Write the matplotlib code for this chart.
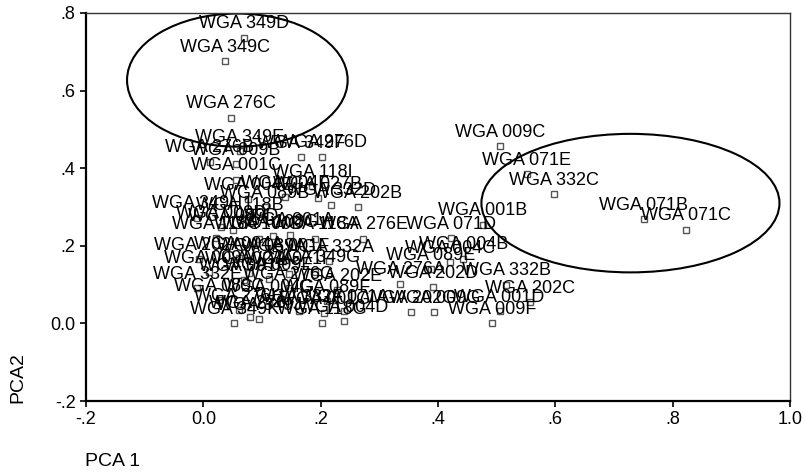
import matplotlib.pyplot as plt
from matplotlib.patches import Ellipse

plt.rcParams['font.family'] = ['Liberation Sans', 'DejaVu Sans']

labels = ['WGA 349D', 'WGA 349C', 'WGA 276C',
          'WGA 349E', 'WGA 276D', 'WGA 349F', 'WGA 276B', 'WGA 009B', 'WGA 001C',
          'WGA 118I', 'WGA 004F', 'WGA 027B', 'WGA 089B', 'WGA 332D', 'WGA 202B', 'WGA 004E',
          'WGA 349H', 'WGA 118B', 'WGA 009D', 'WGA 089D', 'WGA 001A', 'WGA 118A', 'WGA 276E',
          'WGA 118C', 'WGA 108G', 'WGA 100D',
          'WGA 202A', 'WGA 001F', 'WGA 332A', 'WGA 004A', 'WGA 089A',
          'WGA 009A', 'WGA 027A', 'WGA 349G', 'WGA 071F',
          'WGA 009E', 'WGA 001E',
          'WGA 332E', 'WGA 276G', 'WGA 202E',
          'WGA 089C', 'WGA 004G', 'WGA 089F',
          'WGA 276H', 'WGA 332F', 'WGA 071A', 'WGA 202G', 'WGA 009G',
          'WGA 276I', 'WGA 349J', 'WGA 004D', 'WGA 001G',
          'WGA 349K', 'WGA 118G',
          'WGA 009C', 'WGA 071E', 'WGA 332C', 'WGA 071B', 'WGA 071C', 'WGA 001B',
          'WGA 071D', 'WGA 004B', 'WGA 004C', 'WGA 089E', 'WGA 276A', 'WGA 202D',
          'WGA 332B', 'WGA 202C', 'WGA 001D', 'WGA 009F']

pca1 = [0.069, 0.037, 0.047,
        0.062, 0.202, 0.167, 0.011, 0.055, 0.055,
        0.185, 0.140, 0.195, 0.105, 0.217, 0.263, 0.077,
        -0.010, 0.063, 0.030, 0.050, 0.147, 0.190, 0.273,
        0.022, 0.118, 0.095,
        -0.008, 0.140, 0.215, 0.060, 0.100,
        0.009, 0.078, 0.190, 0.146,
        0.112, 0.069,
        -0.010, 0.146, 0.228,
        0.026, 0.112, 0.210,
        0.061, 0.163, 0.240, 0.354, 0.394,
        0.079, 0.095, 0.239, 0.206,
        0.053, 0.202,
        0.506, 0.551, 0.598, 0.751, 0.823, 0.476,
        0.422, 0.443, 0.421, 0.388, 0.336, 0.391,
        0.516, 0.556, 0.505, 0.492]

pca2 = [0.736, 0.676, 0.530,
        0.444, 0.430, 0.428, 0.417, 0.410, 0.370,
        0.354, 0.325, 0.322, 0.300, 0.306, 0.300, 0.320,
        0.272, 0.268, 0.248, 0.240, 0.229, 0.218, 0.218,
        0.219, 0.225, 0.218,
        0.165, 0.163, 0.160, 0.168, 0.162,
        0.132, 0.130, 0.133, 0.128,
        0.114, 0.112,
        0.090, 0.090, 0.085,
        0.060, 0.058, 0.058,
        0.034, 0.032, 0.032, 0.029, 0.029,
        0.016, 0.011, 0.006, 0.026,
        0.001, 0.001,
        0.456, 0.384, 0.333, 0.269, 0.242, 0.254,
        0.220, 0.167, 0.158, 0.139, 0.102, 0.093,
        0.100, 0.055, 0.032, 0.001]

xticks = [-0.2, 0.0, 0.2, 0.4, 0.6, 0.8, 1.0]
xticklabels = ['-.2', '0.0', '.2', '.4', '.6', '.8', '1.0']
yticks = [-0.2, 0.0, 0.2, 0.4, 0.6, 0.8]
yticklabels = ['-.2', '0.0', '.2', '.4', '.6', '.8']

fig = plt.figure(figsize=(8.05, 4.74), dpi=100)
ax = fig.add_axes([0.1068, 0.154, 0.8746, 0.8186])

ax.plot(pca1, pca2, linestyle='none', marker='s', markersize=5,
        markerfacecolor='white', markeredgecolor='#555555', markeredgewidth=1.0)

for lab, x, y in zip(labels, pca1, pca2):
    ax.annotate(lab, (x, y), xytext=(0, 10), textcoords='offset points',
                ha='center', va='center', fontsize=13, color='black')

# the two groups circled in the original
ax.add_patch(Ellipse((0.058, 0.627), 0.376, 0.343, fill=False, color='black', lw=1.5))
ax.add_patch(Ellipse((0.728, 0.31), 0.508, 0.357, fill=False, color='black', lw=1.5))

ax.set_xlim(-0.2, 1.0)
ax.set_ylim(-0.2, 0.8)
ax.set_xticks(xticks)
ax.set_xticklabels(xticklabels)
ax.set_yticks(yticks)
ax.set_yticklabels(yticklabels)
ax.tick_params(direction='out', length=4, labelsize=13, width=1.2)

for side in ['left', 'bottom']:
    ax.spines[side].set_linewidth(1.6)
for side in ['top', 'right']:
    ax.spines[side].set_linewidth(1.0)
    ax.spines[side].set_color('#333333')

fig.text(85 / 805, 1 - 462 / 474, 'PCA 1', fontsize=14, ha='left', va='center')
fig.text(18 / 805, 1 - 378 / 474, 'PCA2', fontsize=14, rotation=90, ha='center', va='center')

fig.savefig('out.png', dpi=100)
